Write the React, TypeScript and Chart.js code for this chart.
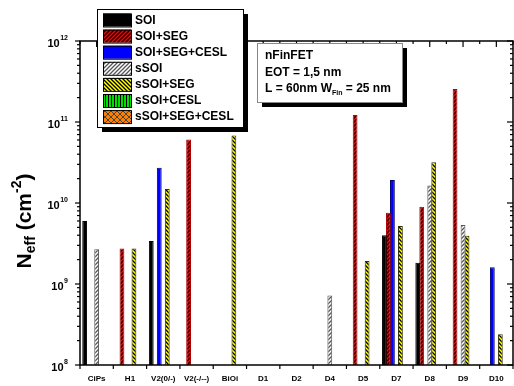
import React, { useEffect, useRef } from "react";
import { Chart, registerables } from "chart.js";

Chart.register(...registerables);

const categories = ["CiPs", "H1", "V2(0/-)", "V2(-/--)", "BiOi", "D1", "D2", "D4", "D5", "D7", "D8", "D9", "D10"];
const seriesNames = ["SOI", "SOI+SEG", "SOI+SEG+CESL", "sSOI", "sSOI+SEG", "sSOI+CESL", "sSOI+SEG+CESL"];

const soi = [6.0e9, null, 3.4e9, null, null, null, null, null, null, 4.0e9, 1.83e9, null, null];
const soiSeg = [null, 2.75e9, null, 6.1e10, null, null, null, null, 1.22e11, 7.6e9, 9.0e9, 2.55e11, null];
const soiSegCesl = [null, null, 2.73e10, null, null, null, null, null, null, 1.92e10, null, null, 1.61e9];
const sSoi = [2.68e9, null, null, null, null, null, null, 7.2e8, null, null, 1.64e10, 5.35e9, null];
const sSoiSeg = [null, 2.75e9, 1.49e10, null, 6.8e10, null, null, null, 1.92e9, 5.2e9, 3.18e10, 3.95e9, 2.4e8];
const sSoiCesl = [null, null, null, null, null, null, null, null, null, null, null, null, null];
const sSoiSegCesl = [null, null, null, null, null, null, null, null, null, null, null, null, null];

const yTickExponents = [8, 9, 10, 11, 12];
const annotationLines = ["nFinFET", "EOT = 1,5 nm"];

const FONT = "'Liberation Sans', Arial, sans-serif";

type Style = { bg: string; line: string | null; kind: string; border: string };
const styles: Style[] = [
  { bg: "#000000", line: null, kind: "solid", border: "#000000" },
  { bg: "#ff0000", line: "#000000", kind: "fwd", border: "#b00000" },
  { bg: "#0000ff", line: null, kind: "solid", border: "#00006a" },
  { bg: "#ffffff", line: "#555555", kind: "fwd", border: "#555555" },
  { bg: "#ffff00", line: "#000000", kind: "back", border: "#333300" },
  { bg: "#00e000", line: "#000000", kind: "vert", border: "#000000" },
  { bg: "#ff8000", line: "#444444", kind: "cross", border: "#444444" },
];

function makePattern(ctx: CanvasRenderingContext2D, s: Style): CanvasPattern | string {
  if (s.kind === "solid" || !s.line) return s.bg;
  const p = s.kind === "vert" ? 3 : s.kind === "cross" ? 6 : 4;
  const c = document.createElement("canvas");
  c.width = p;
  c.height = p;
  const g = c.getContext("2d")!;
  g.fillStyle = s.bg;
  g.fillRect(0, 0, p, p);
  g.strokeStyle = s.line;
  g.lineWidth = s.kind === "cross" ? 1 : 1.3;
  const fwd = () => {
    g.beginPath();
    g.moveTo(-1, p + 1); g.lineTo(p + 1, -1);
    g.moveTo(-1, 1); g.lineTo(1, -1);
    g.moveTo(p - 1, p + 1); g.lineTo(p + 1, p - 1);
    g.stroke();
  };
  const back = () => {
    g.beginPath();
    g.moveTo(-1, -1); g.lineTo(p + 1, p + 1);
    g.moveTo(p - 1, -1); g.lineTo(p + 1, 1);
    g.moveTo(-1, p - 1); g.lineTo(1, p + 1);
    g.stroke();
  };
  if (s.kind === "fwd") fwd();
  else if (s.kind === "back") back();
  else if (s.kind === "cross") { fwd(); back(); }
  else if (s.kind === "vert") {
    g.fillStyle = s.line;
    g.fillRect(0, 0, 1, p);
  }
  return ctx.createPattern(c, "repeat")!;
}

function line(ctx: CanvasRenderingContext2D, x1: number, y1: number, x2: number, y2: number) {
  ctx.beginPath();
  ctx.moveTo(x1, y1);
  ctx.lineTo(x2, y2);
  ctx.stroke();
}

type Piece = { t: string; size: number; dy: number };
function drawPieces(ctx: CanvasRenderingContext2D, pieces: Piece[], x: number, y: number, align: "left" | "center") {
  let total = 0;
  for (const p of pieces) {
    ctx.font = `bold ${p.size}px ${FONT}`;
    total += ctx.measureText(p.t).width;
  }
  let cx = align === "center" ? x - total / 2 : x;
  ctx.textAlign = "left";
  ctx.textBaseline = "alphabetic";
  for (const p of pieces) {
    ctx.font = `bold ${p.size}px ${FONT}`;
    ctx.fillText(p.t, cx, y + p.dy);
    cx += ctx.measureText(p.t).width;
  }
}

const decorPlugin = {
  id: "decor",
  afterDatasetsDraw(chart: any) {
    const ctx: CanvasRenderingContext2D = chart.ctx;
    const { left, right, top, bottom } = chart.chartArea;
    const xs = chart.scales.x;
    const ys = chart.scales.y;
    ctx.save();
    ctx.strokeStyle = "#000";
    ctx.lineWidth = 1.5;
    ctx.strokeRect(left, top, right - left, bottom - top);
    ctx.lineWidth = 1.2;
    for (const e of yTickExponents) {
      const yp = ys.getPixelForValue(Math.pow(10, e));
      line(ctx, left - 5, yp, left, yp);
      line(ctx, right - 6, yp, right, yp);
      if (e < 12) {
        for (let m = 2; m <= 9; m++) {
          const ym = ys.getPixelForValue(m * Math.pow(10, e));
          line(ctx, left - 3, ym, left, ym);
          line(ctx, right - 3, ym, right, ym);
        }
      }
    }
    const n = categories.length;
    const w = (right - left) / n;
    for (let i = 0; i <= n; i++) {
      const xb = left + i * w;
      line(ctx, xb, bottom, xb, bottom + 4);
      line(ctx, xb, top, xb, top + 3);
    }
    for (let i = 0; i < n; i++) {
      const xc = xs.getPixelForValue(i);
      line(ctx, xc, top, xc, top + 6);
    }
    // x labels
    ctx.fillStyle = "#000";
    ctx.font = `bold 8px ${FONT}`;
    ctx.textAlign = "center";
    ctx.textBaseline = "middle";
    categories.forEach((c, i) => ctx.fillText(c, xs.getPixelForValue(i), bottom + 14));
    // y labels
    for (const e of yTickExponents) {
      const yp = ys.getPixelForValue(Math.pow(10, e));
      ctx.font = `bold 7px ${FONT}`;
      const et = String(e);
      const ew = ctx.measureText(et).width;
      ctx.textAlign = "right";
      ctx.textBaseline = "alphabetic";
      ctx.fillText(et, 68, yp - 1);
      ctx.font = `bold 11px ${FONT}`;
      ctx.fillText("10", 68 - ew - 0.5, yp + 6);
    }
    // y title
    ctx.save();
    ctx.translate(31, 221);
    ctx.rotate(-Math.PI / 2);
    drawPieces(
      ctx,
      [
        { t: "N", size: 21, dy: 0 },
        { t: "eff", size: 14, dy: 4 },
        { t: " (cm", size: 21, dy: 0 },
        { t: "-2", size: 14, dy: -10 },
        { t: ")", size: 21, dy: 0 },
      ],
      0,
      0,
      "center"
    );
    ctx.restore();
    ctx.restore();
  },
  afterDraw(chart: any) {
    const ctx: CanvasRenderingContext2D = chart.ctx;
    ctx.save();
    // legend
    const lx = 97, ly = 9, lw = 146, lh = 118;
    ctx.fillStyle = "#000";
    ctx.fillRect(lx + 5, ly + 5, lw, lh);
    ctx.fillStyle = "#fff";
    ctx.fillRect(lx, ly, lw, lh);
    ctx.strokeStyle = "#000";
    ctx.lineWidth = 1;
    ctx.strokeRect(lx + 0.5, ly + 0.5, lw, lh);
    chart.data.datasets.forEach((ds: any, i: number) => {
      const cy = 20 + i * 16.1;
      ctx.fillStyle = ds.backgroundColor;
      ctx.fillRect(103, cy - 6.5, 28, 13);
      ctx.strokeStyle = "#000";
      ctx.lineWidth = 1;
      ctx.strokeRect(103.5, cy - 6, 28, 13);
      ctx.fillStyle = "#000";
      ctx.font = `bold 12px ${FONT}`;
      ctx.textAlign = "left";
      ctx.textBaseline = "middle";
      ctx.fillText(ds.label, 135, cy + 0.5);
    });
    // annotation box
    const ax = 257, ay = 43, aw = 145, ah = 59;
    ctx.fillStyle = "#000";
    ctx.fillRect(ax + 5, ay + 5, aw, ah);
    ctx.fillStyle = "#fff";
    ctx.fillRect(ax, ay, aw, ah);
    ctx.strokeStyle = "#888";
    ctx.strokeRect(ax + 0.5, ay + 0.5, aw, ah);
    ctx.fillStyle = "#000";
    ctx.font = `bold 12px ${FONT}`;
    ctx.textAlign = "left";
    ctx.textBaseline = "alphabetic";
    annotationLines.forEach((t, i) => ctx.fillText(t, 265, 59 + i * 16.5));
    drawPieces(
      ctx,
      [
        { t: "L = 60nm W", size: 12, dy: 0 },
        { t: "Fin", size: 7, dy: 3 },
        { t: " = 25 nm", size: 12, dy: 0 },
      ],
      265,
      92,
      "left"
    );
    ctx.restore();
  },
};

export default function App() {
  const ref = useRef<HTMLCanvasElement | null>(null);
  useEffect(() => {
    const canvas = ref.current!;
    const ctx = canvas.getContext("2d")!;
    const seriesData = [soi, soiSeg, soiSegCesl, sSoi, sSoiSeg, sSoiCesl, sSoiSegCesl];
    const chart = new Chart(ctx, {
      type: "bar",
      data: {
        labels: categories,
        datasets: seriesData.map((d, i) => ({
          label: seriesNames[i],
          data: d,
          backgroundColor: makePattern(ctx, styles[i]) as any,
          borderColor: styles[i].border,
          borderWidth: 1,
          borderSkipped: "start",
          categoryPercentage: 0.84,
          barPercentage: 1.2,
        })),
      },
      options: {
        responsive: false,
        animation: false,
        devicePixelRatio: 1,
        layout: { padding: { left: 80, top: 41, right: 1, bottom: 21 } },
        scales: {
          x: { type: "category", display: false, offset: true },
          y: { type: "logarithmic", display: false, min: 1e8, max: 1e12 },
        },
        plugins: { legend: { display: false }, tooltip: { enabled: false } },
      },
      plugins: [decorPlugin as any],
    });
    return () => chart.destroy();
  }, []);
  return (
    <div style={{ position: "absolute", left: 0, top: 0, width: 514, height: 386, background: "#fff" }}>
      <canvas ref={ref} width={514} height={386} style={{ display: "block" }} />
    </div>
  );
}
